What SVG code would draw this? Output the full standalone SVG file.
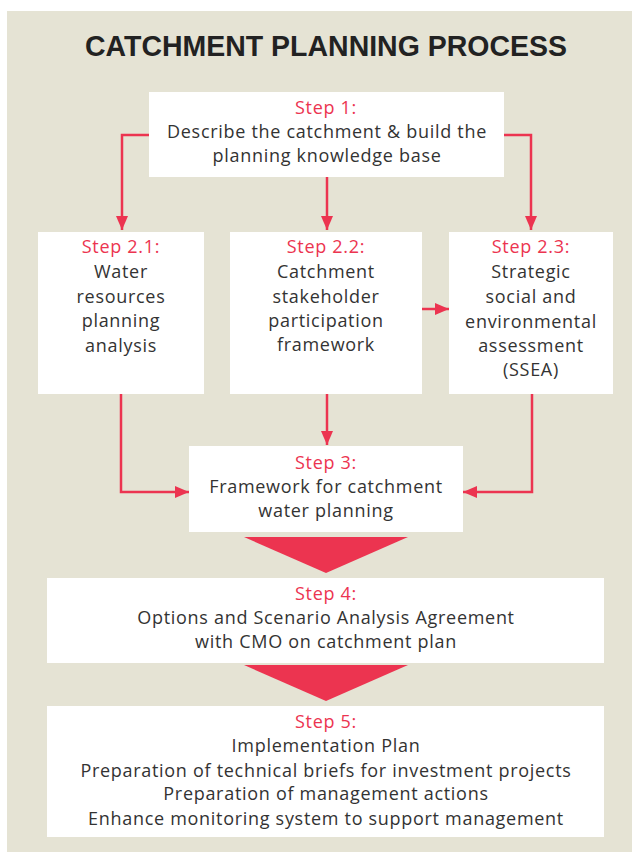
<svg xmlns="http://www.w3.org/2000/svg" width="632" height="852" viewBox="0 0 632 852">
<defs>
<style>
.box{fill:#ffffff}
.lbl{font-family:"Open Sans","Noto Sans","Liberation Sans",sans-serif;font-size:18px;letter-spacing:0.7px;fill:#EC3450;text-anchor:middle}
.txt{font-family:"Open Sans","Noto Sans","Liberation Sans",sans-serif;font-size:18px;letter-spacing:0.7px;fill:#333333;text-anchor:middle}
.con{fill:none;stroke:#EC3450;stroke-width:2.5;marker-end:url(#ah)}
.big{fill:#EC3450}
</style>
<marker id="ah" markerUnits="userSpaceOnUse" markerWidth="14" markerHeight="12" refX="14" refY="6" orient="auto">
<path d="M0,0 L14,6 L0,12 z" fill="#EC3450"/>
</marker>
</defs>
<rect x="7" y="11" width="625" height="841" fill="#E5E3D4"/>
<text x="326" y="56" font-family="Liberation Sans, Arial, sans-serif" font-weight="bold" font-size="29" fill="#222222" text-anchor="middle" textLength="482" lengthAdjust="spacingAndGlyphs">CATCHMENT PLANNING PROCESS</text>

<g id="connectors">
<polyline class="con" points="149,135 122,135 122,230"/>
<polyline class="con" points="504,135 531,135 531,230"/>
<polyline class="con" points="327,177 327,230"/>
<polyline class="con" points="422,309 449,309"/>
<polyline class="con" points="121,394 121,492 189,492"/>
<polyline class="con" points="327,394 327,445"/>
<polyline class="con" points="532,394 532,492 463,492"/>
<polygon class="big" points="244,537 408,537 326,573"/>
<polygon class="big" points="244,665 408,665 326,701"/>
</g>

<g id="step1">
<rect class="box" x="149" y="92" width="355" height="85"/>
<text class="lbl" x="326" y="114">Step 1:</text>
<text class="txt" x="327" y="138">Describe the catchment &amp; build the</text>
<text class="txt" x="327" y="162">planning knowledge base</text>
</g>

<g id="step2-1">
<rect class="box" x="38" y="232" width="166" height="162"/>
<text class="lbl" x="121" y="253">Step 2.1:</text>
<text class="txt" x="121" y="278">Water</text>
<text class="txt" x="121" y="303">resources</text>
<text class="txt" x="121" y="327">planning</text>
<text class="txt" x="121" y="352">analysis</text>
</g>

<g id="step2-2">
<rect class="box" x="230" y="232" width="192" height="162"/>
<text class="lbl" x="326" y="253">Step 2.2:</text>
<text class="txt" x="326" y="278">Catchment</text>
<text class="txt" x="326" y="303">stakeholder</text>
<text class="txt" x="326" y="327">participation</text>
<text class="txt" x="326" y="351">framework</text>
</g>

<g id="step2-3">
<rect class="box" x="449" y="232" width="164" height="162"/>
<text class="lbl" x="531" y="253">Step 2.3:</text>
<text class="txt" x="531" y="278">Strategic</text>
<text class="txt" x="531" y="303">social and</text>
<text class="txt" x="531" y="328">environmental</text>
<text class="txt" x="531" y="352">assessment</text>
<text class="txt" x="531" y="376">(SSEA)</text>
</g>

<g id="step3">
<rect class="box" x="189" y="446" width="274" height="86"/>
<text class="lbl" x="326" y="469">Step 3:</text>
<text class="txt" x="326" y="493">Framework for catchment</text>
<text class="txt" x="326" y="517">water planning</text>
</g>

<g id="step4">
<rect class="box" x="47" y="578" width="557" height="85"/>
<text class="lbl" x="326" y="600">Step 4:</text>
<text class="txt" x="326" y="624">Options and Scenario Analysis Agreement</text>
<text class="txt" x="326" y="648">with CMO on catchment plan</text>
</g>

<g id="step5">
<rect class="box" x="47" y="706" width="557" height="131"/>
<text class="lbl" x="326" y="728">Step 5:</text>
<text class="txt" x="326" y="752">Implementation Plan</text>
<text class="txt" x="326" y="777">Preparation of technical briefs for investment projects</text>
<text class="txt" x="326" y="800">Preparation of management actions</text>
<text class="txt" x="326" y="825">Enhance monitoring system to support management</text>
</g>
</svg>
